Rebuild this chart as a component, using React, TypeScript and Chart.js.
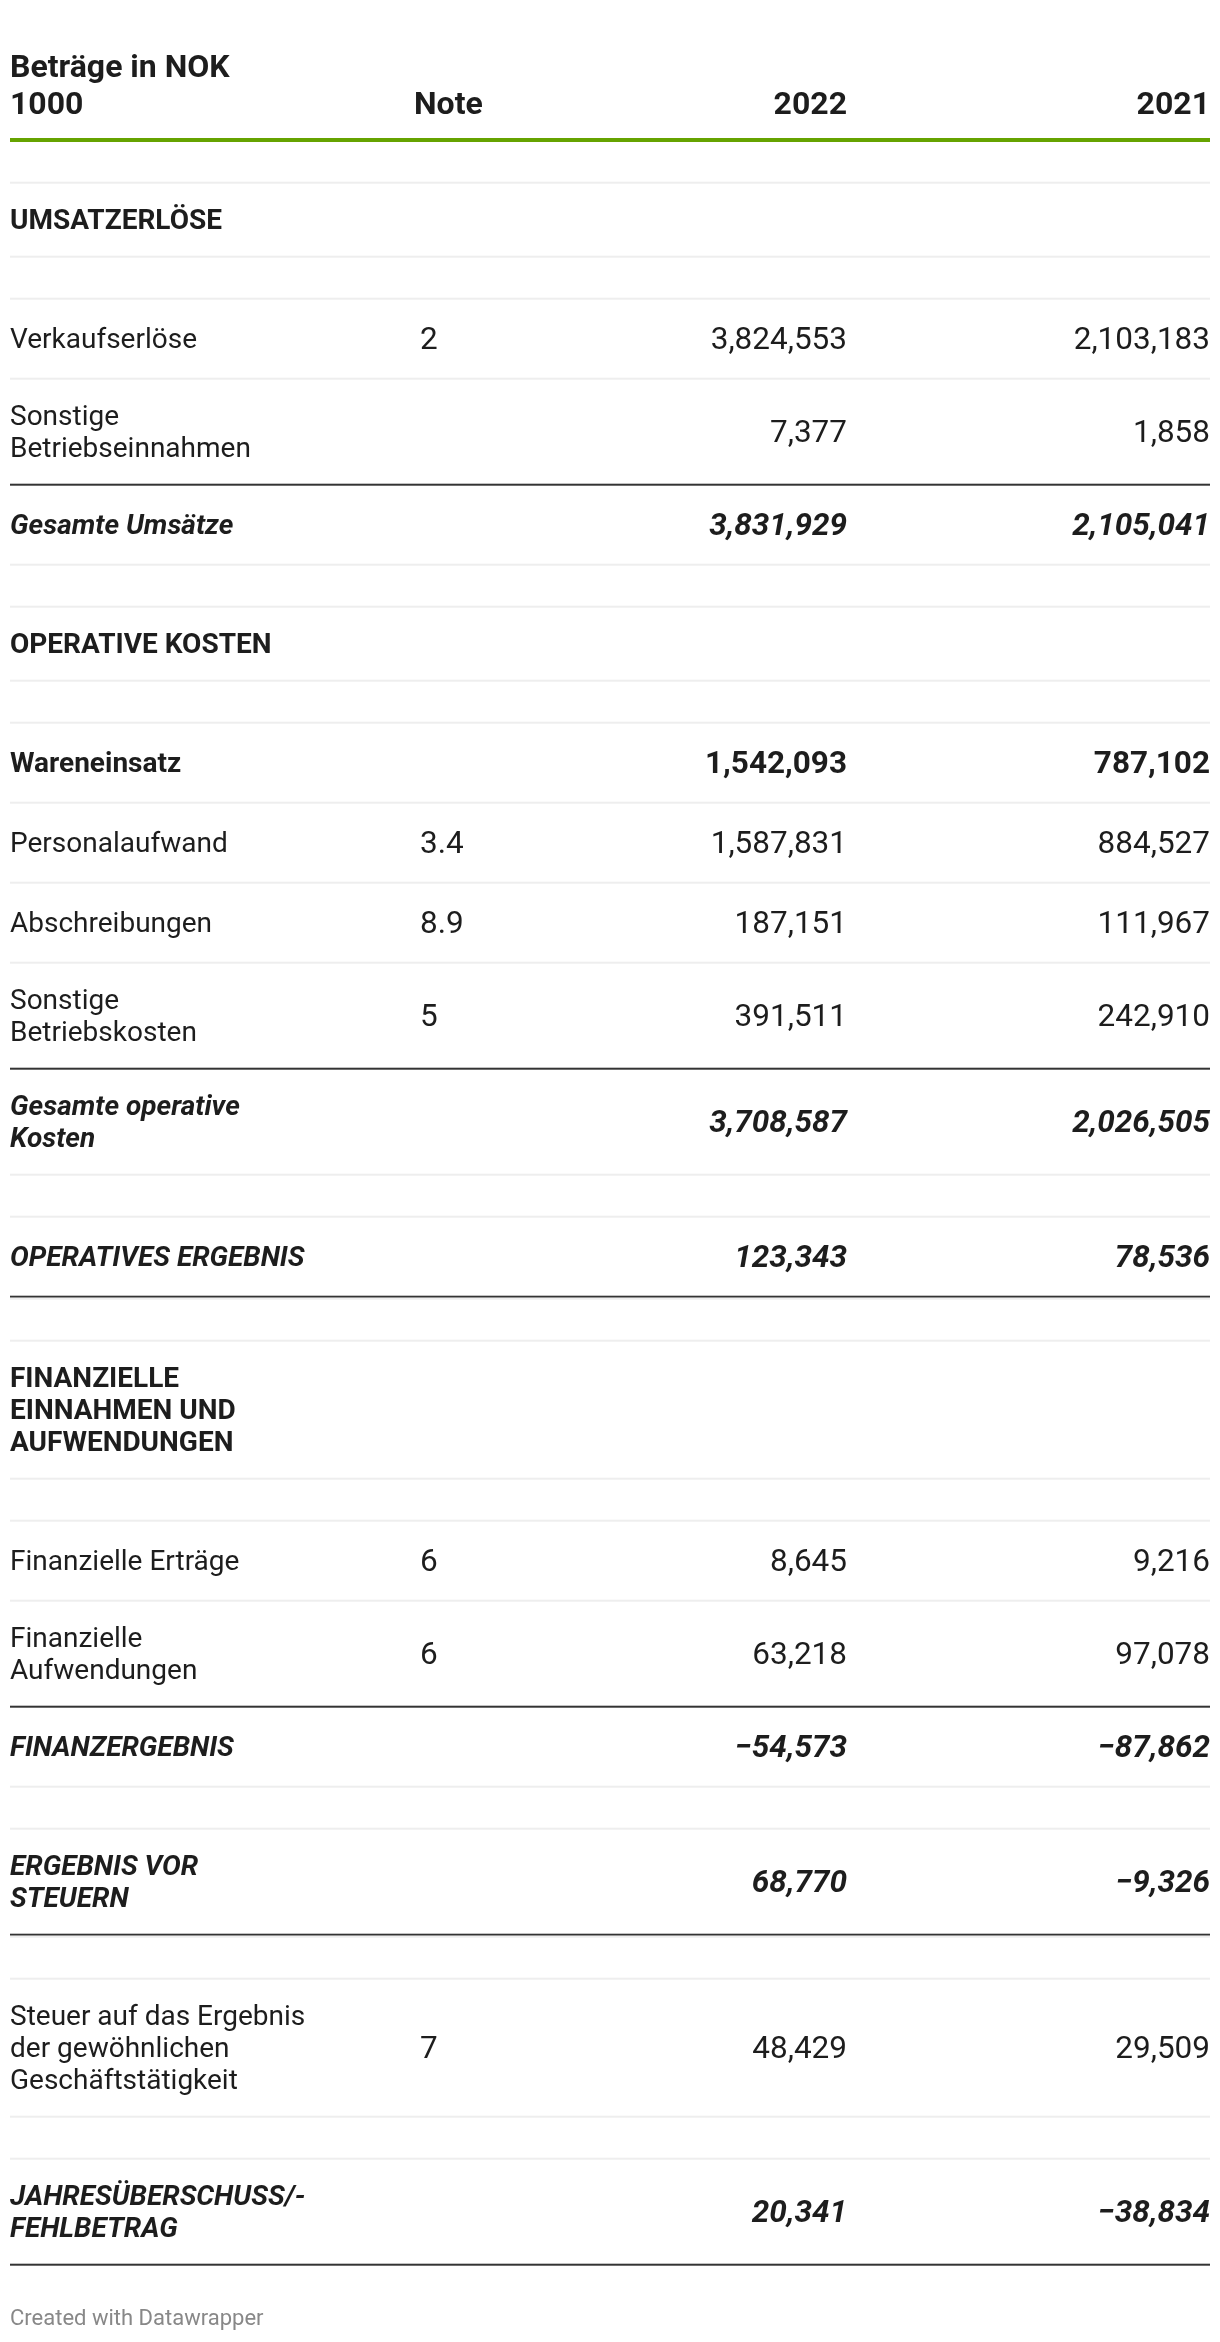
import React, { useEffect, useRef } from "react";
import Chart from "chart.js/auto";

// ---------- DATA ----------
const headerLabel = ["Beträge in NOK", "1000"];
const headerNote = "Note";
const yearHeaders = ["2022", "2021"];

const rowTypes = [
  "spacer", "section", "spacer",
  "normal", "normal", "total",
  "spacer", "section", "spacer",
  "bold", "normal", "normal", "normal", "total",
  "spacer", "total", "spacer",
  "section", "spacer",
  "normal", "normal", "total",
  "spacer", "total", "spacer",
  "normal", "spacer", "total",
];

const rowLabels = [
  "", "UMSATZERLÖSE", "",
  "Verkaufserlöse", "Sonstige\nBetriebseinnahmen", "Gesamte Umsätze",
  "", "OPERATIVE KOSTEN", "",
  "Wareneinsatz", "Personalaufwand", "Abschreibungen", "Sonstige\nBetriebskosten", "Gesamte operative\nKosten",
  "", "OPERATIVES ERGEBNIS", "",
  "FINANZIELLE\nEINNAHMEN UND\nAUFWENDUNGEN", "",
  "Finanzielle Erträge", "Finanzielle\nAufwendungen", "FINANZERGEBNIS",
  "", "ERGEBNIS VOR\nSTEUERN", "",
  "Steuer auf das Ergebnis\nder gewöhnlichen\nGeschäftstätigkeit", "", "JAHRESÜBERSCHUSS/-\nFEHLBETRAG",
];

const rowNotes = [
  "", "", "",
  "2", "", "",
  "", "", "",
  "", "3.4", "8.9", "5", "",
  "", "", "",
  "", "",
  "6", "6", "",
  "", "", "",
  "7", "", "",
];

const values2022: (number | null)[] = [
  null, null, null,
  3824553, 7377, 3831929,
  null, null, null,
  1542093, 1587831, 187151, 391511, 3708587,
  null, 123343, null,
  null, null,
  8645, 63218, -54573,
  null, 68770, null,
  48429, null, 20341,
];

const values2021: (number | null)[] = [
  null, null, null,
  2103183, 1858, 2105041,
  null, null, null,
  787102, 884527, 111967, 242910, 2026505,
  null, 78536, null,
  null, null,
  9216, 97078, -87862,
  null, -9326, null,
  29509, null, -38834,
];

const rowRules = [
  "light", "light", "light",
  "light", "dark", "light",
  "light", "light", "light",
  "light", "light", "light", "dark", "light",
  "light", "dark", "light",
  "light", "light",
  "light", "dark", "light",
  "light", "dark", "light",
  "light", "light", "dark",
];

const footerText = "Created with Datawrapper";

// ---------- STYLE / LAYOUT ----------
const W = 1220;
const H = 2342;
const FONT = 'Roboto, "Noto Sans", sans-serif';
const TEXT = "#1d1d1d";
const GREEN = "#66a300";
const DARK = "#333333";
const LIGHT = "#eeeeee";
const LEFT = 10;
const RIGHT = 1210;
const NOTE_HEAD_X = 414;
const NOTE_X = 420;
const COL2022_X = 847;
const COL2021_X = 1210;
const FS = 28;
const FS_HEAD = 32;
const FS_NUM = 31.5;
const FS_FOOT = 22;
const LINE = 32;
const TABLE_TOP = 140.7;

function fmt(v: number | null): string {
  if (v === null || v === undefined) return "";
  const s = new Intl.NumberFormat("en-US").format(Math.abs(v));
  return v < 0 ? "\u2212" + s : s;
}

function rowHeight(type: string, nLines: number): number {
  if (type === "spacer") return 42;
  if (type === "section") return 42 + LINE * nLines;
  return Math.max(80, 42 + LINE * nLines);
}

const tablePlugin = {
  id: "financialTable",
  afterDraw(chart: any) {
    const ctx: CanvasRenderingContext2D = chart.ctx;
    const xs = chart.scales.x;
    const ys = chart.scales.y;
    const X = (v: number) => xs.getPixelForValue(v);
    const Y = (v: number) => ys.getPixelForValue(v);
    const base = (center: number, fs: number) => Y(center + fs * 0.34);

    ctx.save();
    ctx.fillStyle = "#ffffff";
    ctx.fillRect(0, 0, chart.width, chart.height);

    // header
    ctx.fillStyle = TEXT;
    ctx.font = `700 ${FS_HEAD}px ${FONT}`;
    ctx.textAlign = "left";
    ctx.textBaseline = "alphabetic";
    ctx.fillText(headerLabel[0], X(LEFT), base(66, FS_HEAD));
    ctx.fillText(headerLabel[1], X(LEFT), base(103, FS_HEAD));
    ctx.fillText(headerNote, X(NOTE_HEAD_X), base(103, FS_HEAD));
    ctx.textAlign = "right";
    ctx.fillText(yearHeaders[0], X(COL2022_X), base(103, FS_HEAD));
    ctx.fillText(yearHeaders[1], X(COL2021_X), base(103, FS_HEAD));

    // green rule
    ctx.fillStyle = GREEN;
    ctx.fillRect(X(LEFT), Y(138), X(RIGHT) - X(LEFT), Y(142) - Y(138));

    let top = TABLE_TOP;
    let prevRule = "light";
    for (let i = 0; i < rowTypes.length; i++) {
      const type = rowTypes[i];
      const lines = rowLabels[i] ? rowLabels[i].split("\n") : [];
      let h = rowHeight(type, lines.length);
      if (prevRule === "dark" && type === "spacer") {
        // thin light line just below a dark rule, before an empty row
        ctx.fillStyle = LIGHT;
        ctx.fillRect(X(LEFT), Y(top + 1), X(RIGHT) - X(LEFT), Y(top + 3) - Y(top + 1));
        h += 2;
      }
      const bottom = top + h;
      const mid = (top + bottom) / 2;

      let labelFont = `400 ${FS}px ${FONT}`;
      let valueFont = `400 ${FS_NUM}px ${FONT}`;
      if (type === "section") labelFont = `700 ${FS}px ${FONT}`;
      if (type === "bold") {
        labelFont = `700 ${FS}px ${FONT}`;
        valueFont = `700 ${FS_NUM}px ${FONT}`;
      }
      if (type === "total") {
        labelFont = `italic 700 ${FS}px ${FONT}`;
        valueFont = `italic 700 ${FS_NUM}px ${FONT}`;
      }

      ctx.fillStyle = TEXT;
      ctx.textAlign = "left";
      ctx.font = labelFont;
      lines.forEach((ln, k) => {
        const c = mid + (k - (lines.length - 1) / 2) * LINE;
        ctx.fillText(ln, X(LEFT), base(c, FS));
      });
      if (rowNotes[i]) {
        ctx.font = `400 ${FS_NUM}px ${FONT}`;
        ctx.fillText(rowNotes[i], X(NOTE_X), base(mid, FS_NUM));
      }
      ctx.font = valueFont;
      ctx.textAlign = "right";
      const v1 = fmt(values2022[i]);
      const v2 = fmt(values2021[i]);
      if (v1) ctx.fillText(v1, X(COL2022_X), base(mid, FS_NUM));
      if (v2) ctx.fillText(v2, X(COL2021_X), base(mid, FS_NUM));

      ctx.fillStyle = rowRules[i] === "dark" ? DARK : LIGHT;
      ctx.fillRect(X(LEFT), Y(bottom - 1), X(RIGHT) - X(LEFT), Y(bottom + 1) - Y(bottom - 1));

      prevRule = rowRules[i];
      top = bottom;
    }

    // footer
    ctx.fillStyle = "#888888";
    ctx.font = `400 ${FS_FOOT}px ${FONT}`;
    ctx.textAlign = "left";
    ctx.fillText(footerText, X(LEFT), base(2318, FS_FOOT));
    ctx.restore();
  },
};

export default function App() {
  const ref = useRef<HTMLCanvasElement | null>(null);
  useEffect(() => {
    if (!ref.current) return;
    const chart = new Chart(ref.current, {
      type: "scatter",
      data: { datasets: [{ data: [], pointRadius: 0 }] },
      options: {
        animation: false,
        responsive: false,
        maintainAspectRatio: false,
        devicePixelRatio: 1,
        events: [],
        layout: { padding: 0 },
        plugins: { legend: { display: false }, tooltip: { enabled: false }, title: { display: false } },
        scales: {
          x: { type: "linear", min: 0, max: W, display: false },
          y: { type: "linear", min: 0, max: H, reverse: true, display: false },
        },
      },
      plugins: [tablePlugin],
    } as any);
    return () => chart.destroy();
  }, []);
  return (
    <div style={{ position: "absolute", left: 0, top: 0, width: W, height: H, background: "#fff" }}>
      <canvas ref={ref} width={W} height={H} style={{ display: "block", width: W, height: H }} />
    </div>
  );
}
